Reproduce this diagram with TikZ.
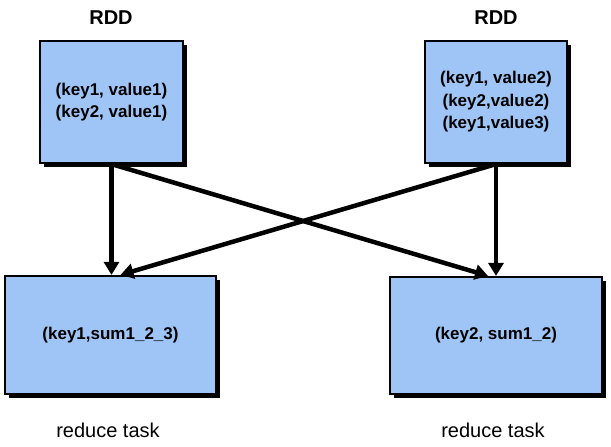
\documentclass[tikz,border=0pt]{standalone}
\usepackage{fontspec}
\setmainfont{Liberation Sans}
\usetikzlibrary{arrows.meta, positioning, shadows}
\definecolor{boxblue}{RGB}{159,197,246}

\begin{document}
\begin{tikzpicture}[x=1pt, y=-1pt, >={Triangle[length=13pt,width=15pt]},
    rddbox/.style={draw=black, line width=2.2pt, fill=boxblue, align=center,
        font=\fontsize{17}{22.5}\selectfont\bfseries,
        drop shadow={shadow xshift=4pt, shadow yshift=-4pt, fill=black, opacity=1}},
    title/.style={font=\fontsize{20}{24}\selectfont\bfseries},
    link/.style={->, line width=4.5pt}]
    \useasboundingbox (0,0) rectangle (611,447);

    % RDD partitions
    \node[title] (t1) at (111,18) {RDD};
    \node[title] (t2) at (496,18) {RDD};
    \node[rddbox, minimum width=143, minimum height=122] (rdd1) at (111.5,102)
        {(key1, value1)\\(key2, value1)};
    \node[rddbox, minimum width=142, minimum height=122] (rdd2) at (496,102)
        {(key1, value2)\\(key2,value2)\\(key1,value3)};

    % Reduce tasks
    \node[rddbox, minimum width=211, minimum height=118] (red1) at (110.5,335)
        {(key1,sum1\_2\_3)};
    \node[rddbox, minimum width=212, minimum height=117] (red2) at (496,335.5)
        {(key2, sum1\_2)};
    \node[title, font=\fontsize{20}{24}\selectfont] (r1) at (108,430) {reduce task};
    \node[title, font=\fontsize{20}{24}\selectfont] (r2) at (493,430) {reduce task};

    % Shuffle
    \draw[link] (rdd1.south) -- (rdd1.south |- red1.north);
    \draw[link] (rdd1.south) -- ([xshift=-8]red2.north);
    \draw[link] (rdd2.south) -- ([xshift=10]red1.north);
    \draw[link] (rdd2.south) -- (rdd2.south |- red2.north);
\end{tikzpicture}
\end{document}
